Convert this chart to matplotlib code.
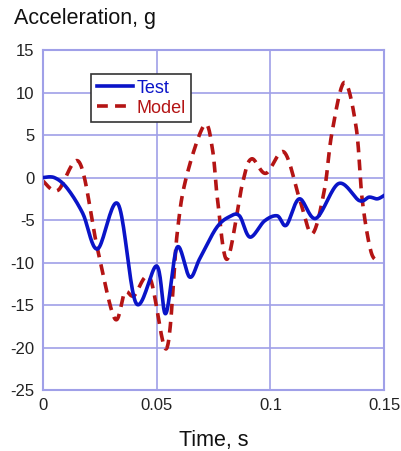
import numpy as np
import matplotlib
matplotlib.use("Agg")
import matplotlib.pyplot as plt

plt.rcParams['font.family'] = ['Liberation Sans', 'DejaVu Sans']
plt.rcParams['axes.unicode_minus'] = False

# test curve
test_t = [0.0, 0.005, 0.0105, 0.0175, 0.024, 0.033, 0.041, 0.05, 0.054, 0.059,
          0.0645, 0.069, 0.0763, 0.082, 0.0864, 0.091, 0.0974, 0.103, 0.107,
          0.1127, 0.12, 0.130, 0.139, 0.1434, 0.147, 0.15]
test_g = [0.0, 0.0, -1.2, -4.2, -8.4, -3.1, -14.8, -10.4, -16.0, -8.2,
          -11.7, -9.5, -5.9, -4.6, -4.5, -7.0, -5.1, -4.5, -5.6,
          -2.5, -4.8, -0.7, -2.7, -2.3, -2.5, -2.1]

# model curve
model_t = [0.0, 0.0066, 0.016, 0.024, 0.0316, 0.036, 0.040, 0.047, 0.0544, 0.059,
           0.063, 0.071, 0.0746, 0.0768, 0.081, 0.0877, 0.0917, 0.098, 0.106,
           0.113, 0.1184, 0.1237, 0.127, 0.1325, 0.1377, 0.1404, 0.1443, 0.148]
model_g = [-0.4, -1.5, 1.8, -8.4, -16.6, -13.5, -13.9, -11.8, -20.1, -6.6,
           0.0, 6.2, 3.2, -2.7, -9.6, -0.7, 2.2, 0.5, 3.0,
           -2.7, -6.6, -1.5, 5.2, 11.2, 5.9, -2.7, -8.8, -9.8]

xticks = [0, 0.05, 0.1, 0.15]
xticklabels = ['0', '0.05', '0.1', '0.15']
yticks = [-25, -20, -15, -10, -5, 0, 5, 10, 15]


def smooth(x, y):
    # catmull-rom style smoothing through the read points
    x = np.asarray(x, float)
    y = np.asarray(y, float)
    xs, ys = [], []
    for i in range(len(x) - 1):
        p0 = i - 1 if i > 0 else i
        p3 = i + 2 if i + 2 < len(x) else i + 1
        for s in np.linspace(0, 1, 20, endpoint=False):
            s2, s3 = s * s, s * s * s
            def cr(v):
                return 0.5 * ((2 * v[i]) + (-v[p0] + v[i + 1]) * s +
                              (2 * v[p0] - 5 * v[i] + 4 * v[i + 1] - v[p3]) * s2 +
                              (-v[p0] + 3 * v[i] - 3 * v[i + 1] + v[p3]) * s3)
            xs.append(cr(x))
            ys.append(cr(y))
    xs.append(x[-1])
    ys.append(y[-1])
    return np.array(xs), np.array(ys)


grid_col = '#a0a0e8'

fig = plt.figure(figsize=(4.01, 4.51), dpi=100)
ax = fig.add_axes([0.107, 0.135, 0.851, 0.754])

tx, ty = smooth(test_t, test_g)
mx, my = smooth(model_t, model_g)
ax.plot(tx, ty, color='#0a14c8', lw=2.6, label='Test', zorder=3)
ax.plot(mx, my, color='#b41414', lw=2.6, ls=(0, (3, 2)), label='Model', zorder=2)

ax.set_xlim(0, 0.15)
ax.set_ylim(-25, 15)
ax.set_xticks(xticks)
ax.set_xticklabels(xticklabels)
ax.set_yticks(yticks)
ax.tick_params(length=0, labelsize=12, pad=6, colors='#222222')
ax.grid(True, color=grid_col, lw=1.2)
ax.set_axisbelow(True)
for sp in ax.spines.values():
    sp.set_color(grid_col)
    sp.set_linewidth(1.5)

ax.set_xlabel('Time, s', fontsize=15.5, labelpad=12, color='#111111')
fig.text(0.035, 0.958, 'Acceleration, g', fontsize=15.5, va='center', ha='left', color='#111111')

leg = ax.legend(loc='upper left', bbox_to_anchor=(0.115, 0.955), fontsize=13,
                frameon=True, fancybox=False, edgecolor='#333333', framealpha=1,
                handlelength=2.0, handletextpad=0.2, borderpad=0.3, labelspacing=0.15)
leg.get_frame().set_linewidth(1.2)
for txt, c in zip(leg.get_texts(), ['#0a14c8', '#b41414']):
    txt.set_color(c)

fig.savefig('out.png', dpi=100)
